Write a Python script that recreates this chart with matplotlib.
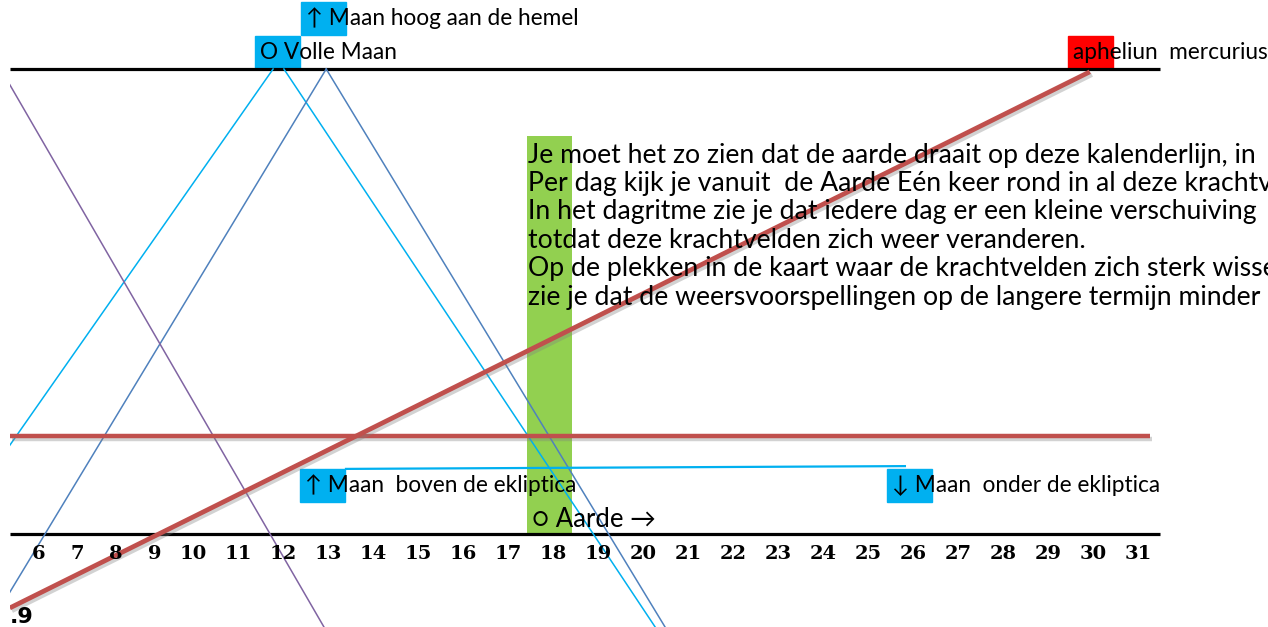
import matplotlib
matplotlib.use("Agg")
import matplotlib.pyplot as plt
import matplotlib.patheffects as pe
from matplotlib.patches import Rectangle

# ---------------- data (day along the calendar line, level above it) ----------------
days = list(range(6, 32))
day_labels = [str(d) for d in days]

calendar_start, calendar_end = 5.93, 31.49
top_level, bottom_level = 10.0, 0.0

# moon / planet lines (day, level)
cyan_rise_days, cyan_rise_levels = [5.93, 11.78], [1.91, 10.0]
cyan_fall_days, cyan_fall_levels = [12.02, 20.27], [10.0, -2.0]
blue_rise_days, blue_rise_levels = [5.93, 12.96], [-1.25, 10.0]
blue_fall_days, blue_fall_levels = [12.96, 20.49], [10.0, -2.0]
purple_days, purple_levels = [5.93, 12.91], [9.66, -2.0]
red_diag_days, red_diag_levels = [5.93, 29.93], [-1.59, 9.94]
red_flat_days, red_flat_levels = [5.93, 31.27], [2.10, 2.10]
link_days, link_levels = [13.40, 25.82], [1.40, 1.46]

earth_day, earth_height = 17.92, 8.56

# labelled boxes: (text, day of box left edge, level of box bottom, colour)
box_labels = ["↑ Maan hoog aan de hemel", "O Volle Maan", "apheliun  mercurius",
              "↑ Maan  boven de ekliptica", "↓ Maan  onder de ekliptica"]
box_days = [12.40, 11.38, 29.44, 12.38, 25.42]
box_levels = [10.73, 10.0, 10.0, 0.69, 0.69]
box_colors = ["#00B0F0", "#00B0F0", "#FF0000", "#00B0F0", "#00B0F0"]

paragraph = [
    "Je moet het zo zien dat de aarde draait op deze kalenderlijn, in",
    "Per dag kijk je vanuit  de Aarde Eén keer rond in al deze krachtvelden",
    "In het dagritme zie je dat iedere dag er een kleine verschuiving",
    "totdat deze krachtvelden zich weer veranderen.",
    "Op de plekken in de kaart waar de krachtvelden zich sterk wisselen",
    "zie je dat de weersvoorspellingen op de langere termijn minder",
]
corner_label = ".9"

# ---------------- figure ----------------
W, H = 1268, 627
fig = plt.figure(figsize=(W / 100, H / 100), dpi=100)
ax = fig.add_axes([10 / W, 0, (W - 10) / W, 1])
ax.set_xlim(5.9333, 33.889)
ax.set_ylim(-2.0, 11.484)
ax.axis("off")

sans = ["Lato", "DejaVu Sans"]

# green Earth column
ax.bar([earth_day], [earth_height], width=1.0, bottom=0, color="#92D050", zorder=1)

# calendar lines
for lvl in (top_level, bottom_level):
    ax.plot([calendar_start, calendar_end], [lvl, lvl], color="black", lw=2.3,
            solid_capstyle="butt", zorder=3)

thin = dict(lw=1.1, zorder=4)
ax.plot(cyan_rise_days, cyan_rise_levels, color="#00B0F0", **thin)
ax.plot(cyan_fall_days, cyan_fall_levels, color="#00B0F0", **thin)
ax.plot(blue_rise_days, blue_rise_levels, color="#4F81BD", **thin)
ax.plot(blue_fall_days, blue_fall_levels, color="#4F81BD", **thin)
ax.plot(purple_days, purple_levels, color="#8064A2", **thin)
ax.plot(link_days, link_levels, color="#00B0F0", lw=1.6, zorder=4)

shadow = [pe.SimpleLineShadow(offset=(1.5, -2), alpha=0.35, shadow_color="gray"), pe.Normal()]
ax.plot(red_flat_days, red_flat_levels, color="#C0504D", lw=3.2,
        solid_capstyle="butt", path_effects=shadow, zorder=5)
ax.plot(red_diag_days, red_diag_levels, color="#C0504D", lw=3.4,
        solid_capstyle="butt", path_effects=shadow, zorder=6)

# labelled boxes
for txt, d, lvl, c in zip(box_labels, box_days, box_levels, box_colors):
    ax.add_patch(Rectangle((d, lvl), 1.0, 0.71, color=c, zorder=2))
    ax.text(d + 0.11, lvl + 0.36, txt, family=sans, fontsize=16.3, va="center",
            ha="left", zorder=7)

# paragraph
for i, line in enumerate(paragraph):
    ax.text(earth_day - 0.48, 8.15 - 0.611 * i, line, family=sans, fontsize=19.2,
            va="center", ha="left", zorder=7)

# Earth marker
ax.text(earth_day - 0.38, 0.32, "○ Aarde →", family=sans, fontsize=18.5,
        va="center", ha="left", zorder=7)

# day numbers
for d, lab in zip(days, day_labels):
    pos = d + 0.14 * max(0, 10 - d)
    ax.text(pos, -0.43, lab, family="DejaVu Serif", fontweight="bold", fontsize=14,
            ha="center", va="center", zorder=7)

# corner label
ax.text(calendar_start, -1.78, corner_label, family="DejaVu Sans", fontweight="bold",
        fontsize=16, ha="left", va="center", zorder=7)

fig.savefig("out.png", dpi=100)
